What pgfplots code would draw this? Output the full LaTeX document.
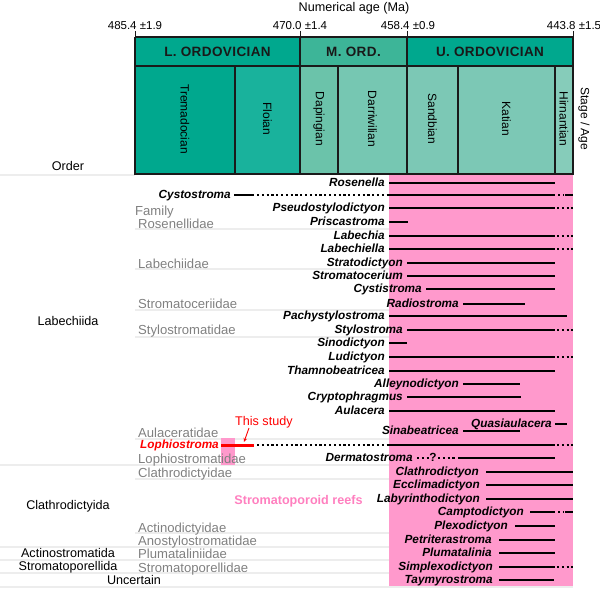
\documentclass[border=0pt]{standalone}
\usepackage{fontspec}
\setmainfont{Liberation Sans}
\newfontfamily\hdrfont[LetterSpace=3]{Liberation Sans}
\usepackage{pgfplots}
\usepackage{pgfplotstable}
\pgfplotsset{compat=1.18}
\usetikzlibrary{arrows.meta}

\definecolor{ordA}{HTML}{00A88E}
\definecolor{ordM}{HTML}{3DB598}
\definecolor{floian}{HTML}{19B29C}
\definecolor{daping}{HTML}{6BC3AA}
\definecolor{darri}{HTML}{76C7B2}
\definecolor{upper}{HTML}{7CC8B5}
\definecolor{hirn}{HTML}{86CCBA}
\definecolor{reef}{HTML}{FF99CC}
\definecolor{reeftext}{HTML}{FF7FBF}
\definecolor{famgrey}{HTML}{808080}
\definecolor{sepgrey}{HTML}{EDEDED}
\definecolor{frame}{HTML}{1A1A1A}

\newcommand\gfont{\fontsize{11.8}{13}\selectfont\bfseries\itshape}
\newcommand\ffont{\fontsize{12.6}{14}\selectfont}
\newcommand\famfont{\fontsize{13.1}{15}\selectfont}

\tikzset{
  stage/.style={rotate=-90, font=\fontsize{12}{14}\selectfont, inner sep=0pt},
  hdr/.style={font=\hdrfont\fontsize{13.5}{15}\selectfont\bfseries, text=black!90},
  age/.style={anchor=base, inner sep=0pt, font=\fontsize{11.5}{13}\selectfont},
  lab/.style={anchor=base, inner sep=0pt, font=\ffont},
}

% solid ranges (pixel x along the time scale, row y); nan breaks segments
\pgfplotstableread{
x y
389 183
555 183
nan nan
234 195
254 195
nan nan
388 195
555 195
nan nan
565 195
573 195
nan nan
389 208
555 208
nan nan
389 222
408 222
nan nan
389 236
555 236
nan nan
389 249
555 249
nan nan
407 263
555 263
nan nan
407 276
555 276
nan nan
426 289
555 289
nan nan
463 304
525 304
nan nan
389 316
567 316
nan nan
407 330
555 330
nan nan
389 343
407 343
nan nan
389 357
555 357
nan nan
389 371
555 371
nan nan
463 384
520 384
nan nan
407 397
521 397
nan nan
389 411
555 411
nan nan
555 424
567 424
nan nan
463 431
520 431
nan nan
388 445
555 445
nan nan
458 458
555 458
nan nan
486 472
573 472
nan nan
486 485
573 485
nan nan
486 499
573 499
nan nan
530 512
555 512
nan nan
565 512
573 512
nan nan
515 526
555 526
nan nan
499 540
555 540
nan nan
499 553
555 553
nan nan
499 567
555 567
nan nan
499 580
554 580
}\solidtab

% uncertain (dotted) ranges
\pgfplotstableread{
x y
257 195
388 195
nan nan
558 195
563 195
nan nan
557 208
573 208
nan nan
557 236
573 236
nan nan
557 249
573 249
nan nan
557 330
573 330
nan nan
557 357
573 357
nan nan
257 445
388 445
nan nan
557 445
573 445
nan nan
417 458
430 458
nan nan
438 458
456 458
nan nan
558 512
563 512
nan nan
557 567
573 567
}\dottab

\pgfplotstableread{
lx y name
385 183 Rosenella
231 195 Cystostroma
385 208 Pseudostylodictyon
385 222 Priscastroma
385 236 Labechia
385 249 Labechiella
403 263 Stratodictyon
403 276 Stromatocerium
422 289 Cystistroma
459 304 Radiostroma
385 316 Pachystylostroma
403 330 Stylostroma
385 343 Sinodictyon
385 357 Ludictyon
385 371 Thamnobeatricea
459 384 Alleynodictyon
403 397 Cryptophragmus
385 411 Aulacera
552 424 Quasiaulacera
459 431 Sinabeatricea
413 458 Dermatostroma
479 472 Clathrodictyon
480 485 Ecclimadictyon
480 499 Labyrinthodictyon
524 512 Camptodictyon
508 526 Plexodictyon
492 540 Petriterastroma
492 553 Plumatalinia
493 567 Simplexodictyon
493 580 Taymyrostroma
}\genustab

\pgfplotstableread{
x y name
135 215 Family
138 228 Rosenellidae
138 268.5 Labechiidae
138 308.5 Stromatoceriidae
138 334.5 Stylostromatidae
138 437.5 Aulaceratidae
138 463.5 Lophiostromatidae
138 477.5 Clathrodictyidae
138 532.5 Actinodictyidae
138 545.5 Anostylostromatidae
138 558.5 Plumataliniidae
138 572.5 Stromatoporellidae
}\famtab

% light separator lines
\pgfplotstableread{
x y
0 175
135 175
nan nan
135 229
573 229
nan nan
135 269
573 269
nan nan
135 310
573 310
nan nan
135 337
573 337
nan nan
135 439
573 439
nan nan
0 465
573 465
nan nan
135 479
573 479
nan nan
135 533
573 533
nan nan
0 547
573 547
nan nan
0 560
573 560
nan nan
0 573
573 573
nan nan
0 587
573 587
}\septab

\begin{document}
\begin{tikzpicture}
\begin{axis}[
  scale only axis, width=600pt, height=599pt,
  xmin=0, xmax=600, ymin=0, ymax=599, y dir=reverse,
  hide axis, clip=false, unbounded coords=jump,
]
\coordinate (LL) at (axis cs:0,599);
\coordinate (UR) at (axis cs:600,0);

% separators
\addplot[sepgrey, line width=1.5pt] table[x=x, y=y] {\septab};

% reef interval
\addplot[fill=reef, draw=none] coordinates {(389,175) (573,175) (573,586) (389,586)};
\addplot[fill=reef, draw=none] coordinates {(221,438) (235,438) (235,465) (221,465)};

% series row
\addplot[fill=ordA, draw=frame, line width=1.2pt] coordinates {(135,37) (300,37) (300,66) (135,66) (135,37)};
\addplot[fill=ordM, draw=frame, line width=1.2pt] coordinates {(300,37) (407,37) (407,66) (300,66) (300,37)};
\addplot[fill=ordA, draw=frame, line width=1.2pt] coordinates {(407,37) (573,37) (573,66) (407,66) (407,37)};
% stage row
\addplot[fill=ordA, draw=frame, line width=1.2pt] coordinates {(135,66) (235,66) (235,174) (135,174) (135,66)};
\addplot[fill=floian, draw=frame, line width=1.2pt] coordinates {(235,66) (300,66) (300,174) (235,174) (235,66)};
\addplot[fill=daping, draw=frame, line width=1.2pt] coordinates {(300,66) (338,66) (338,174) (300,174) (300,66)};
\addplot[fill=darri, draw=frame, line width=1.2pt] coordinates {(338,66) (407,66) (407,174) (338,174) (338,66)};
\addplot[fill=upper, draw=frame, line width=1.2pt] coordinates {(407,66) (458,66) (458,174) (407,174) (407,66)};
\addplot[fill=upper, draw=frame, line width=1.2pt] coordinates {(458,66) (555,66) (555,174) (458,174) (458,66)};
\addplot[fill=hirn, draw=frame, line width=1.2pt] coordinates {(555,66) (573,66) (573,174) (555,174) (555,66)};
% age ticks
\addplot[frame, line width=1pt] coordinates {(135,31) (135,37)};
\addplot[frame, line width=1pt] coordinates {(300,31) (300,37)};
\addplot[frame, line width=1pt] coordinates {(407,31) (407,37)};
\addplot[frame, line width=1pt] coordinates {(573,31) (573,37)};

% ranges
\addplot[black, line width=2.8pt] table[x=x, y=y] {\solidtab};
\addplot[black, line width=2.2pt, dash pattern=on 2.2pt off 2.6pt] table[x=x, y=y] {\dottab};
\addplot[red, line width=3pt] coordinates {(221,445) (254,445)};

% genus names
\addplot[only marks, mark=none, nodes near coords, point meta=explicit symbolic,
  nodes near coords align={anchor=base east},
  every node near coord/.append style={font=\gfont, inner sep=0pt, yshift=-3.5pt}]
  table[x=lx, y=y, meta=name] {\genustab};
% family names
\addplot[only marks, mark=none, nodes near coords, point meta=explicit symbolic,
  nodes near coords align={anchor=base west},
  every node near coord/.append style={font=\famfont, text=famgrey, inner sep=0pt}]
  table[x=x, y=y, meta=name] {\famtab};

\node[anchor=base east, inner sep=0pt, font=\gfont, text=red, yshift=-3.5pt] at (axis cs:219,445) {Lophiostroma};
\node[anchor=base, inner sep=0pt, font=\fontsize{11.8}{13}\selectfont\bfseries, yshift=-3.5pt] at (axis cs:433,458) {?};
\node[anchor=base west, inner sep=0pt, font=\ffont, text=red] at (axis cs:235,425.5) {This study};
\draw[red, line width=0.9pt, -{Stealth[length=4pt,width=3.5pt]}] (axis cs:249,428) -- (axis cs:244,442);
\node[lab, font=\ffont\bfseries, text=reeftext] at (axis cs:298.5,504.5) {Stromatoporoid reefs};

% orders
\node[lab] at (axis cs:68,170.5) {Order};
\node[lab] at (axis cs:68,325.5) {Labechiida};
\node[lab] at (axis cs:68,509.5) {Clathrodictyida};
\node[lab] at (axis cs:68,557.5) {Actinostromatida};
\node[lab] at (axis cs:68,570.5) {Stromatoporellida};
\node[lab] at (axis cs:134,584) {Uncertain};

% time scale text
\node[lab] at (axis cs:354,11.5) {Numerical age (Ma)};
\node[age] at (axis cs:135,29.5) {485.4 ±1.9};
\node[age] at (axis cs:300,29.5) {470.0 ±1.4};
\node[age] at (axis cs:408,29.5) {458.4 ±0.9};
\node[age] at (axis cs:574,29.5) {443.8 ±1.5};
\node[hdr] at (axis cs:217.5,51.5) {L. ORDOVICIAN};
\node[hdr] at (axis cs:353.5,51.5) {M. ORD.};
\node[hdr] at (axis cs:490,51.5) {U. ORDOVICIAN};
\node[stage] at (axis cs:185,119) {Tremadocian};
\node[stage] at (axis cs:267.5,119) {Floian};
\node[stage] at (axis cs:319,119) {Dapingian};
\node[stage] at (axis cs:372.5,119) {Darriwilian};
\node[stage] at (axis cs:432.5,119) {Sandbian};
\node[stage] at (axis cs:506.5,119) {Katian};
\node[stage] at (axis cs:564,119) {Hirnantian};
\node[stage] at (axis cs:584,119) {Stage / Age};
\end{axis}
\pgfresetboundingbox
\path (LL) rectangle (UR);
\end{tikzpicture}
\end{document}
